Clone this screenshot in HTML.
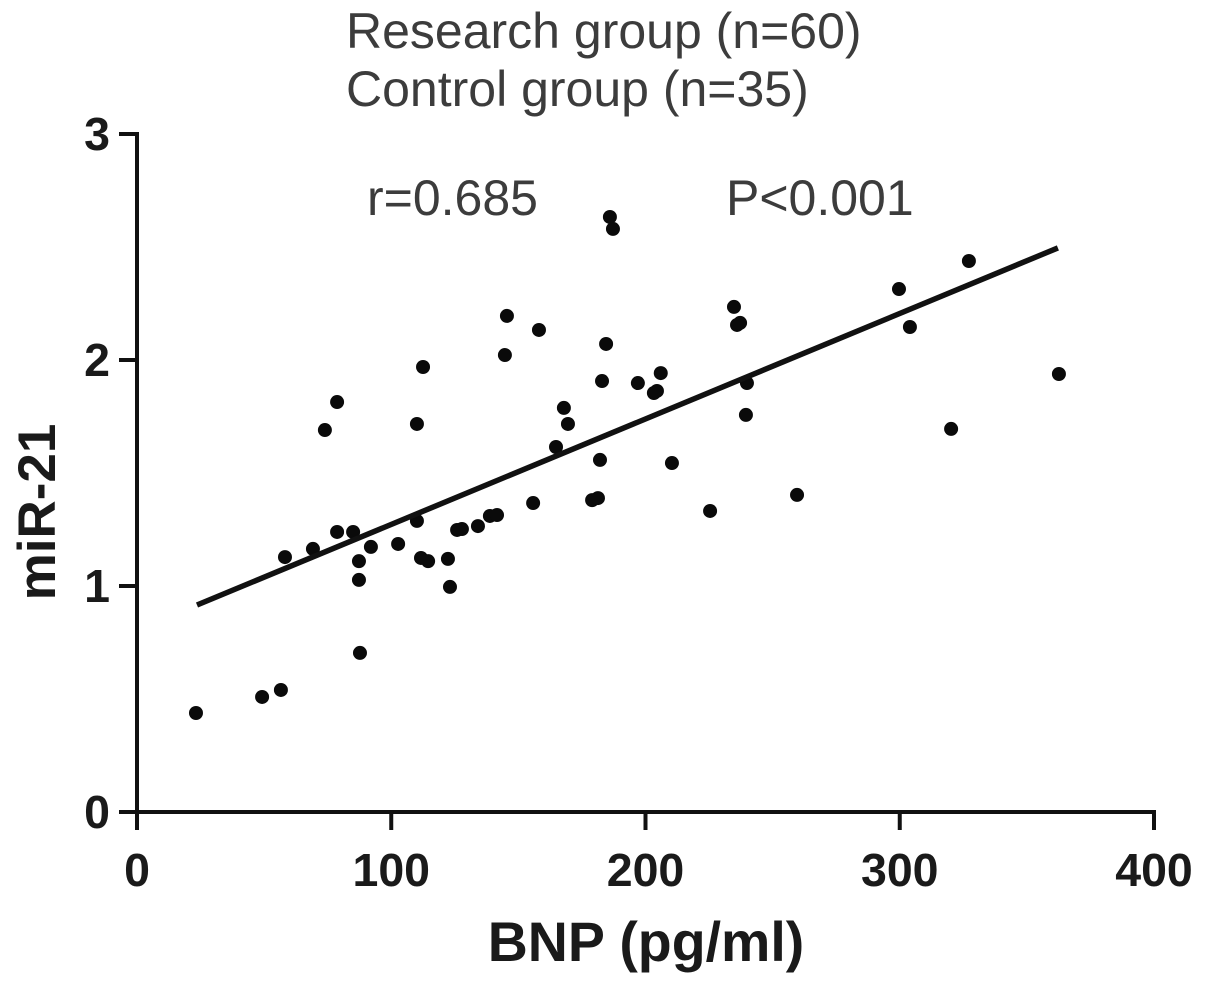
<!DOCTYPE html>
<html lang="en">
<head>
<meta charset="utf-8">
<title>miR-21 vs BNP</title>
<style>
html,body{margin:0;padding:0;background:#fff;}
body{width:1205px;height:985px;overflow:hidden;}
svg{display:block;}
text{font-family:"Liberation Sans",Arial,sans-serif;}
.tick{font-size:46.5px;font-weight:bold;fill:#1a1a1a;}
.axt{font-size:55.5px;font-weight:bold;fill:#1a1a1a;}
.axty{font-size:53px;font-weight:bold;fill:#1a1a1a;}
.note{font-size:50px;fill:#3c3c3c;}
</style>
</head>
<body>
<svg id="chart" xmlns="http://www.w3.org/2000/svg" width="1205" height="985" viewBox="0 0 1205 985">
<text class="note" x="346" y="48">Research group (n=60)</text>
<text class="note" x="346" y="106">Control group (n=35)</text>
<text class="note" x="367" y="215">r=0.685</text>
<text class="note" x="726" y="215">P&lt;0.001</text>
<text class="axt" x="646" y="961" text-anchor="middle">BNP (pg/ml)</text>
<text class="axty" x="0" y="0" text-anchor="middle" transform="translate(55 512) rotate(-90)">miR-21</text>
<g id="axes"></g>
<g id="points"></g>
<g id="fit"></g>
</svg>
<script>
const xTicks = [0, 100, 200, 300, 400];
const yTicks = [0, 1, 2, 3];
const bnpValues = [23.2,49.2,56.6,58.2,69.2,73.9,78.7,78.7,85,87.3,87.3,87.7,92,102.7,110.1,110.1,111.7,112.5,114.5,122.3,123.1,125.9,127.8,134.1,138.8,141.6,144.7,145.5,155.8,158.1,164.8,167.9,169.5,179,181.3,182.1,182.9,184.5,186,187.2,197,203.3,204.5,206,210.4,225.4,234.8,236,237.2,239.5,239.9,259.6,299.7,304,320.2,327.2,362.6];
const mirValues = [0.438,0.509,0.54,1.128,1.164,1.69,1.239,1.814,1.239,1.11,1.027,0.704,1.173,1.186,1.717,1.288,1.124,1.969,1.11,1.12,0.996,1.248,1.252,1.265,1.31,1.314,2.022,2.195,1.367,2.133,1.615,1.788,1.717,1.38,1.389,1.558,1.907,2.071,2.633,2.58,1.898,1.854,1.863,1.942,1.544,1.332,2.235,2.155,2.164,1.757,1.898,1.403,2.314,2.146,1.695,2.438,1.938];
const fitX = [23.6, 362.2];
const fitY = [0.916, 2.496];

const NS = 'http://www.w3.org/2000/svg';
const sx = v => 137 + v * (1154 - 137) / 400;
const sy = v => 812 - v * (812 - 134) / 3;
function make(tag, attrs, parent) {
  const el = document.createElementNS(NS, tag);
  for (const k in attrs) el.setAttribute(k, attrs[k]);
  parent.appendChild(el);
  return el;
}
const axes = document.getElementById('axes');
const axisStyle = {stroke: '#111', 'stroke-width': 4, 'stroke-linecap': 'square'};
const xAxis = make('line', Object.assign({x1: sx(0), x2: sx(400), y1: sy(0), y2: sy(0)}, axisStyle), axes);


const yAxis = make('line', Object.assign({x1: sx(0), x2: sx(0), y1: sy(0), y2: sy(3)}, axisStyle), axes);


xTicks.forEach(t => {
  const m = make('line', Object.assign({x1: sx(t), x2: sx(t), y1: sy(0), y2: sy(0) + 16}, axisStyle), axes);
  
  
  const l = make('text', {x: sx(t), y: 886, 'text-anchor': 'middle', class: 'tick'}, axes);
  l.textContent = t;
  
  
});
yTicks.forEach(t => {
  const m = make('line', Object.assign({x1: sx(0) - 16, x2: sx(0), y1: sy(t), y2: sy(t)}, axisStyle), axes);
  
  
  const l = make('text', {x: 110, y: sy(t) + 16, 'text-anchor': 'end', class: 'tick'}, axes);
  l.textContent = t;
  
  
});
const points = document.getElementById('points');
bnpValues.forEach((b, i) => {
  const c = make('circle', {cx: sx(b), cy: sy(mirValues[i]), r: 7, fill: '#0a0a0a'}, points);
  
  
});
const fit = document.getElementById('fit');
const fitLine = make('line', {x1: sx(fitX[0]), y1: sy(fitY[0]), x2: sx(fitX[1]), y2: sy(fitY[1]), stroke: '#111', 'stroke-width': 5.5}, fit);


</script>
</body>
</html>
